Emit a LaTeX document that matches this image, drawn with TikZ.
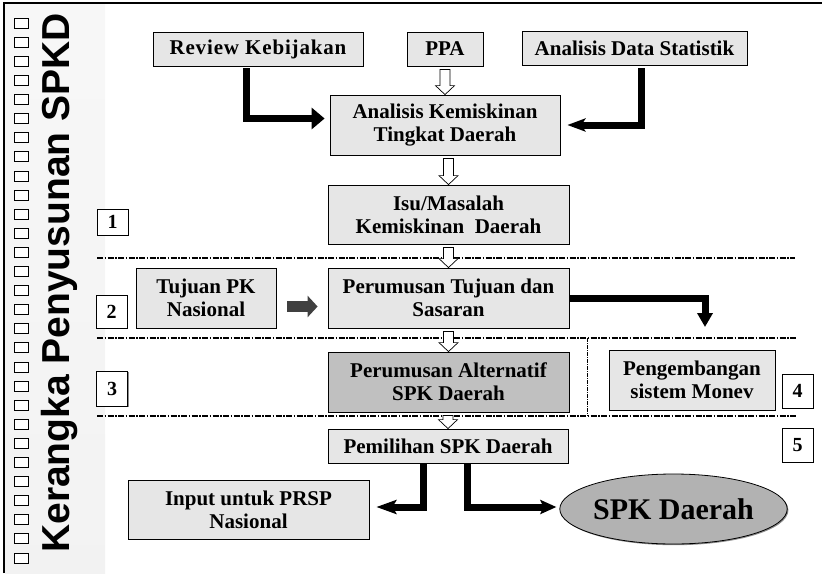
\documentclass[tikz,border=0pt]{standalone}
\usepackage{fontspec}
\setmainfont{Liberation Serif}
\newfontfamily\titlefont{Liberation Sans}
\usetikzlibrary{calc,arrows.meta,shapes.geometric,shadows}

\definecolor{boxgray}{RGB}{230,230,230}
\definecolor{altgray}{RGB}{192,192,192}
\definecolor{spkgray}{RGB}{178,178,178}
\definecolor{fatgray}{RGB}{64,64,64}

\tikzset{
  box/.style={draw, fill=boxgray, align=center, inner sep=0pt, line width=0.8pt,
    font=\fontsize{21}{23}\selectfont\bfseries,
    drop shadow={shadow xshift=1.2pt, shadow yshift=-1.2pt, fill=black!45, opacity=1}},
  numbox/.style={draw, fill=white, inner sep=0pt, line width=0.8pt, minimum width=31pt,
    font=\fontsize{20}{20}\selectfont\bfseries,
    drop shadow={shadow xshift=1pt, shadow yshift=-1pt, fill=black!45, opacity=1}},
  sep/.style={line width=1.3pt, dash pattern=on 6pt off 1.5pt on 1.5pt off 1.5pt},
  heavy/.style={line width=7pt},
  hollow/.style={draw, fill=white, line width=0.7pt}
}

\newcommand{\openarrow}[2]{%
  \draw[hollow] ($(#1.south -| #2.north)+(-5,3)$) -- ($(#2.north)+(-5,-9)$)
    -- ($(#2.north)+(-9.5,-9)$) -- (#2.north) -- ($(#2.north)+(9.5,-9)$)
    -- ($(#2.north)+(5,-9)$) -- ($(#1.south -| #2.north)+(5,3)$) -- cycle;}

\begin{document}
\begin{tikzpicture}[x=1pt,y=-1pt]
  \useasboundingbox (0,0) rectangle (822,573);
  \shade[top color=black!3, middle color=black!22, bottom color=black!5] (5,4) rectangle (105,573);
  \draw[line width=2pt] (4,573) -- (4,3) -- (822,3);
  \foreach \i in {0,...,28}
    \draw[fill=white, line width=0.6pt] (14,{18+19.1*\i}) rectangle ++(14,10);
  \node[rotate=90, anchor=base, font=\titlefont\fontsize{39}{39}\selectfont\bfseries] (title) at (69,283) {Kerangka Penyusunan SPKD};

  \draw[sep] (97,258) -- (795,258);
  \draw[sep] (97,338) -- (797,338);
  \draw[sep] (97,416) -- (796,416);
  \draw[line width=0.7pt, dash pattern=on 4pt off 1pt on 1pt off 1pt] (587,338) -- (587,416);

  \node[box, minimum width=210pt, minimum height=34pt] (review) at (258,49) {\addfontfeature{LetterSpace=4}Review Kebijakan};
  \node[box, minimum width=76pt, minimum height=34pt] (ppa) at (445,49) {PPA};
  \node[box, minimum width=225pt, minimum height=34pt] (ads) at (634.5,48) {Analisis Data Statistik};
  \node[box, minimum width=230pt, minimum height=60pt] (analisis) at (445,125) {Analisis Kemiskinan\\Tingkat Daerah};
  \node[box, minimum width=241pt, minimum height=59pt] (isu) at (448.5,214.5) {Isu/Masalah\\Kemiskinan\ \ Daerah};
  \node[box, minimum width=140pt, minimum height=60pt] (tujuanpk) at (206,298) {Tujuan PK\\Nasional};
  \node[box, minimum width=241pt, minimum height=60pt] (pertujuan) at (448.5,298) {Perumusan Tujuan dan\\Sasaran};
  \node[box, fill=altgray, minimum width=241pt, minimum height=60pt] (alternatif) at (448.5,382) {Perumusan Alternatif\\SPK Daerah};
  \node[box, minimum width=166pt, minimum height=60pt] (monev) at (692,380) {Pengembangan\\sistem Monev};
  \node[box, minimum width=240pt, minimum height=34pt] (pemilihan) at (448,446) {Pemilihan SPK Daerah};
  \node[box, minimum width=241pt, minimum height=59pt] (input) at (248.5,509.5) {Input untuk PRSP\\Nasional};
  \node[box, ellipse, fill=spkgray, minimum width=197pt, minimum height=70pt,
    font=\fontsize{30}{30}\selectfont\bfseries] (spk) at (673.5,509) {SPK Daerah};

  \node[numbox, minimum height=26pt] (n1) at (112.5,222) {1};
  \node[numbox, minimum height=33pt] (n2) at (111.5,311.5) {2};
  \node[numbox, minimum height=35pt] (n3) at (112,388.5) {3};
  \node[numbox, minimum height=34pt] (n4) at (797.5,391) {4};
  \node[numbox, minimum height=34pt] (n5) at (797.5,445) {5};

  \coordinate (monevtip) at (705,327);

  \draw[heavy, -{Triangle[length=13pt,width=21pt]}] ([xshift=-12pt,yshift=-2pt]review.south) |- ([xshift=-5pt,yshift=6.5pt]analisis.west);
  \draw[heavy, -{Stealth[length=18pt,width=13pt,inset=4pt]}] ([xshift=7pt,yshift=-3pt]ads.south) |- ([xshift=7pt]analisis.east);
  \draw[heavy, -{Triangle[length=14pt,width=15pt]}] (pertujuan.east) -| (monevtip);
  \draw[heavy, -{Stealth[length=20pt,width=14pt,inset=4pt]}] ([xshift=-25pt]pemilihan.south) |- ([xshift=7pt,yshift=2.5pt]input.east);
  \draw[heavy, -{Stealth[length=16pt,width=14pt,inset=3pt]}] ([xshift=19pt]pemilihan.south) |- ([xshift=-3pt,yshift=2pt]spk.west);
  \draw[line width=11pt, fatgray, -{Triangle[length=10pt,width=21pt]}] ([xshift=11pt,yshift=-8.5pt]tujuanpk.east) -- ([xshift=-10pt,yshift=-8.5pt]pertujuan.west);

  \openarrow{ppa}{analisis}
  \openarrow{analisis}{isu}
  \openarrow{isu}{pertujuan}
  \openarrow{pertujuan}{alternatif}
  \openarrow{alternatif}{pemilihan}
\end{tikzpicture}
\end{document}
